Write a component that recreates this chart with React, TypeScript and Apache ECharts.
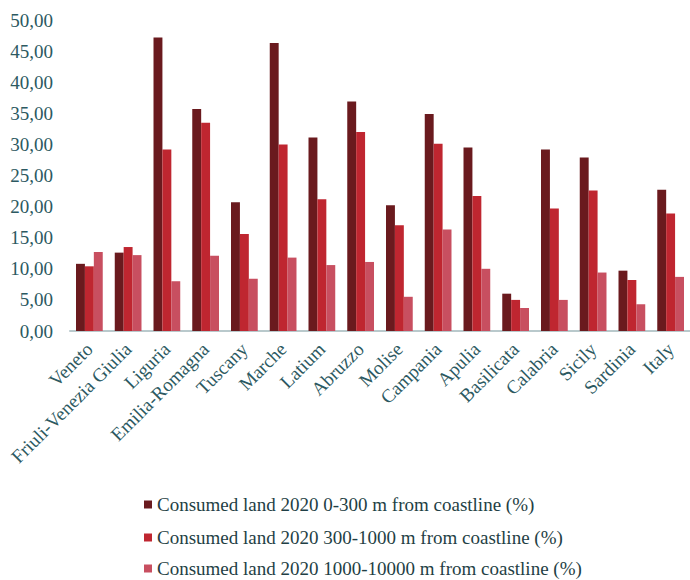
import React, { useEffect, useRef } from "react";
import * as echarts from "echarts";

const categories = [
  "Veneto", "Friuli-Venezia Giulia", "Liguria", "Emilia-Romagna", "Tuscany", "Marche",
  "Latium", "Abruzzo", "Molise", "Campania", "Apulia", "Basilicata", "Calabria",
  "Sicily", "Sardinia", "Italy",
];
const seriesNames = [
  "Consumed land 2020 0-300 m from coastline (%)",
  "Consumed land 2020 300-1000 m from coastline (%)",
  "Consumed land 2020 1000-10000 m from coastline (%)",
];
const band0to300 = [10.8, 12.6, 47.2, 35.7, 20.7, 46.3, 31.1, 36.9, 20.2, 34.9, 29.5, 6.0, 29.2, 27.9, 9.7, 22.7];
const band300to1000 = [10.4, 13.5, 29.2, 33.5, 15.6, 30.0, 21.2, 32.0, 17.0, 30.1, 21.7, 5.0, 19.7, 22.6, 8.2, 18.9];
const band1000to10000 = [12.7, 12.2, 8.0, 12.1, 8.4, 11.8, 10.6, 11.1, 5.5, 16.3, 10.0, 3.7, 5.0, 9.4, 4.3, 8.7];
const colors = ["#6a1a1e", "#bf2630", "#c84f60"];
const legendTops = [495, 528, 559];

const FONT = "'Liberation Serif', 'Times New Roman', serif";
const TEXT = "#2c5961";

export default function App() {
  const ref = useRef<HTMLDivElement>(null);
  useEffect(() => {
    if (!ref.current) return;
    const chart = echarts.init(ref.current, undefined, { renderer: "svg" });
    const data = [band0to300, band300to1000, band1000to10000];
    chart.setOption({
      animation: false,
      backgroundColor: "#ffffff",
      grid: { left: 70, top: 20, width: 627, height: 311 },
      legend: seriesNames.map((name, i) => ({
        orient: "vertical",
        left: 144,
        top: legendTops[i],
        padding: 0,
        itemWidth: 8,
        itemHeight: 8,
        icon: "rect",
        textStyle: { fontFamily: FONT, fontSize: 19, color: "#1f3f45" },
        data: [name],
      })),
      xAxis: {
        type: "category",
        data: categories,
        axisLine: { lineStyle: { color: "#b9c9cc", width: 2 } },
        axisTick: { show: false },
        axisLabel: {
          rotate: 45,
          interval: 0,
          margin: 15,
          fontFamily: FONT,
          fontSize: 19,
          color: TEXT,
        },
      },
      yAxis: {
        type: "value",
        min: 0,
        max: 50,
        interval: 5,
        axisLine: { show: false },
        axisTick: { show: false },
        splitLine: { show: false },
        axisLabel: {
          margin: 17,
          fontFamily: FONT,
          fontSize: 19,
          color: TEXT,
          formatter: (v: number) => v.toFixed(2).replace(".", ","),
        },
      },
      series: seriesNames.map((name, i) => ({
        name,
        type: "bar",
        data: data[i],
        barGap: "0%",
        barCategoryGap: "31%",
        itemStyle: { color: colors[i] },
      })),
    });
    return () => chart.dispose();
  }, []);
  return <div ref={ref} style={{ width: 690, height: 580, position: "absolute", left: 0, top: 0 }} />;
}
